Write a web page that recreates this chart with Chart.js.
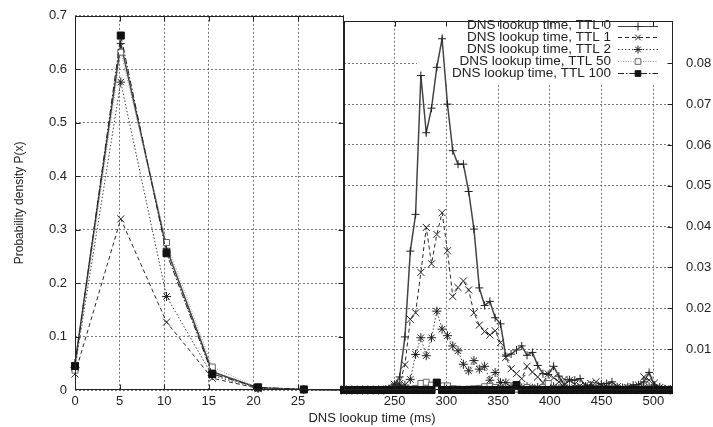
<!DOCTYPE html>
<html>
<head>
<meta charset="utf-8">
<script src="https://cdn.jsdelivr.net/npm/chart.js@4.4.1/dist/chart.umd.min.js"></script>
<style>
html,body{margin:0;padding:0;background:#fff;}
#wrap{position:relative;width:713px;height:427px;overflow:hidden;background:#fff;}
canvas{position:absolute;top:0;}
#c1{left:0;}
#c2{left:338px;}
#xtitle{position:absolute;left:222px;width:300px;top:410px;line-height:16px;text-align:center;
  font-family:"Liberation Sans",Arial,sans-serif;font-size:13px;color:#222;}
</style>
</head>
<body>
<div id="wrap">
  <canvas id="c1" width="350" height="427"></canvas>
  <canvas id="c2" width="375" height="427"></canvas>
  <div id="xtitle">DNS lookup time (ms)</div>
</div>
<script>
// ---------- data ----------
const seriesNames = [
  'DNS lookup time, TTL 0',
  'DNS lookup time, TTL 1',
  'DNS lookup time, TTL 2',
  'DNS lookup time, TTL 50',
  'DNS lookup time, TTL 100'
];
const yAxisTitle = 'Probability density P(x)';

// left panel (0 - 30 ms)
const leftX = [0, 5.13, 10.26, 15.39, 20.52, 25.65, 30.78];
const leftTTL0   = [0.050, 0.648, 0.265, 0.034, 0.004, 0.001, 0];
const leftTTL1   = [0.030, 0.320, 0.127, 0.022, 0.003, 0.001, 0];
const leftTTL2   = [0.042, 0.576, 0.175, 0.027, 0.003, 0.001, 0];
const leftTTL50  = [0.037, 0.632, 0.276, 0.043, 0.004, 0.001, 0];
const leftTTL100 = [0.045, 0.663, 0.256, 0.030, 0.005, 0.001, 0];

// right panel (200 - 520 ms)
const rightX = [
  198.4,203.5,208.6,213.8,218.9,224.0,229.2,234.3,239.4,244.5,
  249.7,254.8,259.9,265.1,270.2,275.3,280.5,285.6,290.7,295.8,
  301.0,306.1,311.2,316.4,321.5,326.6,331.8,336.9,342.0,347.1,
  352.3,357.4,362.5,367.7,372.8,377.9,383.1,388.2,393.3,398.4,
  403.6,408.7,413.8,419.0,424.1,429.2,434.4,439.5,444.6,449.7,
  454.9,460.0,465.1,470.3,475.4,480.5,485.7,490.8,495.9,501.0,
  506.2,511.3,516.4,521.6
];
const rightTTL0 = [
  0,0,0,0,0,0,0,0,0,0.0003,
  0.0014,0.0032,0.013,0.034,0.043,0.077,0.063,0.069,0.079,0.086,
  0.070,0.0586,0.0553,0.0553,0.0486,0.0394,0.025,0.0207,0.0217,0.0177,
  0.0162,0.0083,0.0088,0.0098,0.0108,0.0085,0.0092,0.006,0.004,0.0038,
  0.0058,0.0034,0.0012,0.0025,0.0024,0.0028,0.001,0.0012,0.0008,0.0015,
  0.0016,0.002,0.0008,0.0006,0.0008,0.0012,0.0013,0.002,0.0043,0.0012,
  0.0008,0.0003,0.0002,0
];
const rightTTL1 = [
  0,0,0,0,0,0,0,0,0,0.0003,
  0.0014,0.0016,0.0062,0.0173,0.0189,0.0288,0.0398,0.0309,0.0381,0.0434,
  0.0341,0.0229,0.0251,0.0267,0.0245,0.0189,0.0159,0.0143,0.0135,0.0145,
  0.0116,0.008,0.0052,0.004,0.0028,0.0058,0.0044,0.0032,0.0018,0.0039,
  0.003,0.002,0.0026,0.0024,0.0014,0.001,0.0012,0.0016,0.002,0.0012,
  0.0008,0.0006,0.0008,0.0005,0.0006,0.0008,0.0012,0.0032,0.0024,0.0017,
  0.0006,0.0002,0.0001,0
];
const rightTTL2 = [
  0,0,0,0,0,0,0,0,0,0.0002,
  0.001,0.0012,0.0012,0.0026,0.0087,0.0128,0.0084,0.0128,0.0193,0.0149,
  0.0133,0.0108,0.0096,0.0063,0.0047,0.0072,0.0051,0.0058,0.0024,0.0043,
  0.0018,0.0018,0.0008,0.0006,0.0005,0.0008,0.0004,0.0006,0.0003,0.0005,
  0.0008,0.0004,0.0005,0.0003,0.0006,0.0004,0.0003,0.0004,0.0002,0.0003,
  0.0005,0.0003,0.0002,0.0003,0.0002,0.0004,0.0003,0.0006,0.0008,0.0004,
  0.0002,0.0001,0,0
];
const rightTTL50 = [
  0,0,0,0,0,0,0,0,0,0,
  0.0002,0.0001,0.0002,0.0002,0.0004,0.0016,0.0019,0.0012,0.0008,0.001,
  0.001,0.0003,0.0002,0.0001,0.0002,0.0003,0.0004,0.0008,0.0009,0.0006,
  0.0004,0.0002,0.0001,0.0002,0.0003,0.0006,0.0004,0.0002,0.0006,0.0016,
  0.0004,0.0002,0.0001,0.0002,0.0001,0.0002,0.0001,0.0001,0.0002,0.0001,
  0.0001,0.0002,0.0001,0.0001,0.0002,0.0001,0.0002,0.0001,0.0003,0.0001,
  0.0001,0,0,0
];
const rightTTL100 = [
  0,0,0,0,0,0,0,0,0,0,
  0,0,0,0,0,0,0,0,0.0018,0,
  0,0,0,0,0,0,0,0,0,0,
  0,0,0,0.0012,0,0,0,0,0,0,
  0,0,0,0,0,0,0,0,0,0,
  0,0,0,0,0,0,0,0,0,0,
  0,0,0,0
];

// tick values / labels
const leftXTicks = [0, 5, 10, 15, 20, 25];
const leftXTickLabels = ['0', '5', '10', '15', '20', '25'];
const leftYTicks = [0, 0.1, 0.2, 0.3, 0.4, 0.5, 0.6, 0.7];
const leftYTickLabels = ['0', '0.1', '0.2', '0.3', '0.4', '0.5', '0.6', '0.7'];
const rightXTicks = [250, 300, 350, 400, 450, 500];
const rightXTickLabels = ['250', '300', '350', '400', '450', '500'];
const rightYTicks = [0.01, 0.02, 0.03, 0.04, 0.05, 0.06, 0.07, 0.08];
const rightYTickLabels = ['0.01', '0.02', '0.03', '0.04', '0.05', '0.06', '0.07', '0.08'];

// ---------- styles ----------
const FONT = '"Liberation Sans", Arial, Helvetica, sans-serif';
const TXT = '#222';
Chart.defaults.font.family = FONT;
Chart.defaults.color = TXT;

const styles = [
  {borderColor:'#444', borderWidth:1.5, borderDash:[], pointStyle:'cross', pointRadius:4,
   pointBorderColor:'#222', pointBackgroundColor:'#222', pointBorderWidth:1},
  {borderColor:'#2a2a2a', borderWidth:1, borderDash:[4,3], pointStyle:'crossRot', pointRadius:5,
   pointBorderColor:'#222', pointBackgroundColor:'#222', pointBorderWidth:1},
  {borderColor:'#444', borderWidth:1, borderDash:[1.5,2], pointStyle:'star', pointRadius:4.5,
   pointBorderColor:'#222', pointBackgroundColor:'#222', pointBorderWidth:1},
  {borderColor:'#a0a0a0', borderWidth:1, borderDash:[1,1.5], pointStyle:'rect', pointRadius:4.2,
   pointBorderColor:'#666', pointBackgroundColor:'#fff', pointBorderWidth:1},
  {borderColor:'#222', borderWidth:1, borderDash:[6,2,1.5,2], pointStyle:'rect', pointRadius:5,
   pointBorderColor:'#111', pointBackgroundColor:'#111', pointBorderWidth:1}
];

function makeDatasets(xs, ysList, clip) {
  return seriesNames.map((name, i) => Object.assign({
    label: name,
    data: xs.map((x, j) => ({x: x, y: ysList[i][j]})),
    fill: false,
    tension: 0,
    order: 5 - i,
    clip: clip
  }, styles[i]));
}

function setTicks(values) {
  return function(scale) { scale.ticks = values.map(v => ({value: v})); };
}
function labelFor(values, labels) {
  return function(v) { const k = values.indexOf(v); return k >= 0 ? labels[k] : ''; };
}
const gridOpts = {color:'#555', lineWidth:0.8, drawTicks:false};
const borderOpts = {display:false, dash:[2,2]};
const tickFont = {size:13};

// frame + inward tick marks
function framePlugin(cfg) {
  return {
    id: 'frame',
    afterDatasetsDraw(chart) {
      const ctx = chart.ctx, a = chart.chartArea;
      const xs = chart.scales.x, ys = chart.scales.y;
      const L = Math.round(a.left) + 0.5, R = Math.round(a.right) - 0.5;
      const T = Math.round(a.top) + 0.5, B = Math.round(a.bottom) - 0.5;
      ctx.save();
      ctx.setLineDash([]);
      ctx.strokeStyle = '#222';
      ctx.lineWidth = 1;
      ctx.beginPath();
      cfg.xTicks.forEach(v => {
        const p = Math.round(xs.getPixelForValue(v)) + 0.5;
        ctx.moveTo(p, B); ctx.lineTo(p, B - 5);
        ctx.moveTo(p, T); ctx.lineTo(p, T + 5);
      });
      cfg.yTicks.forEach(v => {
        const p = Math.round(ys.getPixelForValue(v)) + 0.5;
        if (cfg.left) { ctx.moveTo(L, p); ctx.lineTo(L + 5, p); }
        if (cfg.right) { ctx.moveTo(R, p); ctx.lineTo(R - 5, p); }
      });
      ctx.stroke();
      ctx.strokeRect(L, T, R - L, B - T);
      ctx.restore();
    }
  };
}

function drawMarker(ctx, st, x, y) {
  if (Chart.helpers && Chart.helpers.drawPoint) {
    ctx.fillStyle = st.pointBackgroundColor;
    ctx.strokeStyle = st.pointBorderColor;
    ctx.lineWidth = st.pointBorderWidth;
    Chart.helpers.drawPoint(ctx, {pointStyle: st.pointStyle, radius: st.pointRadius,
      borderWidth: st.pointBorderWidth, rotation: 0}, x, y);
  }
}

const legendPlugin = {
  id: 'dnsLegend',
  beforeDatasetsDraw(chart) {
    const ctx = chart.ctx;
    ctx.save();
    ctx.fillStyle = '#fff';
    ctx.fillRect(79, 16, 250, 67);
    ctx.font = '13.5px ' + FONT;
    ctx.textAlign = 'right';
    ctx.textBaseline = 'middle';
    seriesNames.forEach((name, i) => {
      const y = 25.5 + i * 11.9;
      ctx.fillStyle = TXT;
      ctx.fillText(name, 273, y);
      const st = styles[i];
      ctx.strokeStyle = st.borderColor;
      ctx.lineWidth = Math.min(st.borderWidth, 1.2);
      ctx.setLineDash(st.borderDash);
      ctx.beginPath();
      ctx.moveTo(280, Math.round(y) + 0.5);
      ctx.lineTo(320, Math.round(y) + 0.5);
      ctx.stroke();
      ctx.setLineDash([]);
      drawMarker(ctx, Object.assign({}, st, {pointRadius: Math.min(st.pointRadius, 4)}), 300, Math.round(y) + 0.5);
    });
    ctx.restore();
  }
};

// ---------- left chart ----------
new Chart(document.getElementById('c1'), {
  type: 'line',
  data: { datasets: makeDatasets(leftX, [leftTTL0, leftTTL1, leftTTL2, leftTTL50, leftTTL100],
          {left: 6, top: 6, right: 0, bottom: 6}) },
  options: {
    responsive: false, animation: false, devicePixelRatio: 1,
    layout: {padding: {left: 0, top: 15, right: 6, bottom: 0}},
    plugins: {legend: {display: false}, tooltip: {enabled: false}},
    scales: {
      x: {
        type: 'linear', min: 0, max: 30.15,
        afterBuildTicks: setTicks(leftXTicks),
        afterFit: s => { s.height = 37; },
        ticks: {padding: 4, font: tickFont, color: TXT, maxRotation: 0, autoSkip: false,
                callback: labelFor(leftXTicks, leftXTickLabels)},
        grid: gridOpts, border: borderOpts
      },
      y: {
        type: 'linear', min: 0, max: 0.7,
        afterBuildTicks: setTicks(leftYTicks),
        afterFit: s => { s.width = 75; },
        ticks: {padding: 8, font: tickFont, color: TXT, autoSkip: false,
                callback: labelFor(leftYTicks, leftYTickLabels)},
        title: {display: true, text: yAxisTitle, color: TXT, font: {size: 12},
                padding: {top: 12, bottom: 0}},
        grid: gridOpts, border: borderOpts
      }
    }
  },
  plugins: [framePlugin({xTicks: leftXTicks.slice(1), yTicks: leftYTicks.slice(1, -1), left: true, right: true})]
});

// ---------- right chart ----------
new Chart(document.getElementById('c2'), {
  type: 'line',
  data: { datasets: makeDatasets(rightX, [rightTTL0, rightTTL1, rightTTL2, rightTTL50, rightTTL100],
          {left: 4, top: 6, right: 0, bottom: 6}) },
  options: {
    responsive: false, animation: false, devicePixelRatio: 1,
    layout: {padding: {left: 5, top: 15, right: 0, bottom: 0}},
    plugins: {legend: {display: false}, tooltip: {enabled: false}},
    scales: {
      x: {
        type: 'linear', min: 201, max: 519,
        afterBuildTicks: setTicks(rightXTicks),
        afterFit: s => { s.height = 37; },
        ticks: {padding: 4, font: tickFont, color: TXT, maxRotation: 0, autoSkip: false,
                callback: labelFor(rightXTicks, rightXTickLabels)},
        grid: gridOpts, border: borderOpts
      },
      y: {
        type: 'linear', position: 'right', min: 0, max: 0.0904,
        afterBuildTicks: setTicks(rightYTicks),
        afterFit: s => { s.width = 40; },
        ticks: {padding: 13, font: tickFont, color: TXT, autoSkip: false,
                callback: labelFor(rightYTicks, rightYTickLabels)},
        grid: gridOpts, border: borderOpts
      }
    }
  },
  plugins: [legendPlugin, framePlugin({xTicks: rightXTicks, yTicks: rightYTicks, left: false, right: true})]
});
</script>
</body>
</html>
